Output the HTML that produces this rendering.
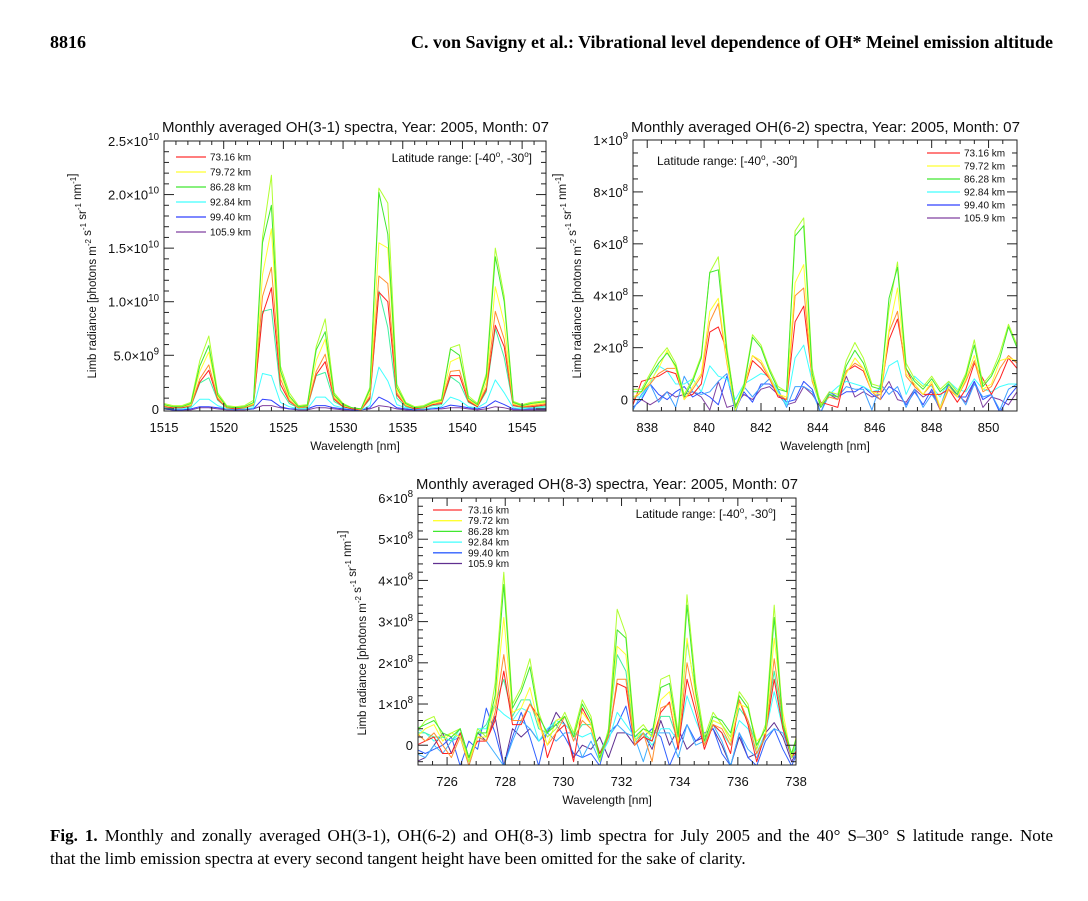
<!DOCTYPE html>
<html><head><meta charset="utf-8">
<style>
body{margin:0;background:#fff;width:1088px;height:901px;overflow:hidden;position:relative;font-family:"Liberation Serif",serif;}
.hdr{position:absolute;top:32px;font-weight:bold;font-size:18px;color:#000;}
.cap{position:absolute;left:50px;top:824px;width:1003px;font-size:17px;line-height:23px;color:#000;}
.cap .l1{display:block;text-align:justify;text-align-last:justify;white-space:nowrap;}
.cap .l2{display:block;text-align:left;}
svg text{font-family:"Liberation Sans",sans-serif;fill:#111;}
</style></head>
<body>
<div class="hdr" style="left:50px">8816</div>
<div class="hdr" style="right:35px">C. von Savigny et al.: Vibrational level dependence of OH* Meinel emission altitude</div>
<svg id="fig" width="1088" height="901" style="position:absolute;left:0;top:0"></svg>
<div class="cap"><span class="l1"><b>Fig. 1.</b> Monthly and zonally averaged OH(3-1), OH(6-2) and OH(8-3) limb spectra for July 2005 and the 40° S–30° S latitude range. Note</span><span class="l2">that the limb emission spectra at every second tangent height have been omitted for the sake of clarity.</span></div>
<script>
// ---------- Chart 1: OH(3-1), values in 1e9 ----------
const xs1=[1515.0,1515.75,1516.5,1517.25,1518.0,1518.75,1519.5,1520.25,1521.0,1521.75,1522.5,1523.25,1524.0,1524.75,1525.5,1526.25,1527.0,1527.75,1528.5,1529.25,1530.0,1530.75,1531.5,1532.25,1533.0,1533.75,1534.5,1535.25,1536.0,1536.75,1537.5,1538.25,1539.0,1539.75,1540.5,1541.25,1542.0,1542.75,1543.5,1544.25,1545.0,1545.75,1546.5,1547.25];
const c1Green=[0.5,0.3,0.3,0.6,4.5,6.8,1.5,0.3,0.2,0.3,0.8,16.0,21.8,4.0,1.5,0.3,0.4,5.8,8.4,1.5,0.5,0.1,0.0,2.0,20.6,19.2,2.3,0.6,0.2,0.3,0.7,0.9,5.7,6.0,1.2,0.5,3.3,15.0,10.5,0.7,0.4,0.6,0.7,0.8];
const c1Green2=[0.4,0.2,0.2,0.5,4.0,5.9,1.3,0.2,0.1,0.2,0.6,15.5,19.0,3.6,1.2,0.2,0.3,5.5,7.2,1.3,0.4,0.1,0.0,1.8,20.2,16.3,2.0,0.5,0.1,0.2,0.6,0.8,5.6,5.0,1.0,0.4,3.0,14.2,10.0,0.6,0.3,0.5,0.6,0.7];
const c1Yellow=[0.3,0.2,0.2,0.4,3.5,5.3,1.2,0.2,0.1,0.2,0.5,12.5,16.8,3.3,1.0,0.2,0.3,4.5,6.5,1.2,0.3,0.1,0.0,1.5,15.5,15.0,1.8,0.4,0.1,0.2,0.5,0.7,4.4,4.8,0.9,0.3,2.5,11.4,8.0,0.5,0.3,0.4,0.5,0.6];
const c1Orange=[0.3,0.2,0.2,0.3,2.8,4.1,1.0,0.1,0.1,0.1,0.4,10.5,13.2,2.8,0.8,0.1,0.2,3.5,5.1,1.0,0.3,0.1,-0.1,1.2,12.4,11.7,1.5,0.3,0.1,0.1,0.5,0.6,3.5,3.6,0.8,0.3,2.0,9.1,6.5,0.4,0.2,0.3,0.4,0.5];
const c1Red=[0.2,0.1,0.1,0.3,2.5,3.6,0.9,0.1,0.0,0.1,0.4,8.8,11.3,2.3,0.7,0.1,0.2,3.2,4.4,0.9,0.2,0.0,-0.1,1.0,10.9,10.0,1.3,0.3,0.0,0.1,0.4,0.5,3.1,3.1,0.7,0.2,1.8,7.8,5.8,0.3,0.2,0.2,0.3,0.4];
const c1Teal=[0.2,0.1,0.1,0.2,2.4,2.9,0.8,0.1,0.0,0.1,0.3,9.1,9.3,1.8,0.5,0.1,0.1,3.1,3.4,0.7,0.2,0.0,-0.1,0.9,11.0,7.6,1.0,0.2,0.0,0.1,0.3,0.4,3.0,2.4,0.6,0.2,1.6,7.5,4.8,0.3,0.1,0.2,0.2,0.3];
const c1Cyan=[0.1,0.0,0.0,0.1,0.9,0.9,0.3,0.0,0.0,0.0,0.1,3.3,3.1,0.6,0.2,0.0,0.0,1.1,1.1,0.3,0.1,0.0,-0.1,0.3,3.9,2.6,0.4,0.1,0.0,0.0,0.1,0.2,1.1,0.8,0.2,0.1,0.6,2.7,1.5,0.1,0.0,0.1,0.1,0.1];
const c1Blue=[0.0,-0.1,-0.1,0.0,0.2,0.2,0.1,0.0,-0.1,0.0,0.0,0.9,0.8,0.2,0.0,0.0,0.0,0.3,0.3,0.1,0.0,-0.1,-0.1,0.1,1.1,0.7,0.1,0.0,-0.1,0.0,0.0,0.1,0.35,0.25,0.1,0.0,0.2,0.75,0.4,0.0,0.0,0.0,0.0,0.0];
const c1Purple=[0.0,-0.1,-0.1,-0.1,0.1,0.1,0.0,-0.1,-0.1,-0.1,0.0,0.3,0.3,0.1,0.0,-0.1,-0.1,0.1,0.1,0.0,-0.1,-0.1,-0.1,0.0,0.3,0.2,0.0,-0.1,-0.1,-0.1,0.0,0.0,0.1,0.1,0.0,-0.1,0.0,0.2,0.1,-0.1,-0.1,-0.1,-0.1,-0.1];
const c1XTicks=[1515,1520,1525,1530,1535,1540,1545];
const c1YTicks=[0,5,10,15,20,25];
const c1YLabels=["0","5.0×10^9","1.0×10^10","1.5×10^10","2.0×10^10","2.5×10^10"];

// ---------- Chart 2: OH(6-2), values in 1e8 ----------
const xs2=[837.5,837.8,838.1,838.4,838.7,839.0,839.3,839.6,839.9,840.2,840.5,840.8,841.1,841.4,841.7,842.0,842.3,842.6,842.9,843.2,843.5,843.8,844.1,844.4,844.7,845.0,845.3,845.6,845.9,846.2,846.5,846.8,847.1,847.4,847.7,848.0,848.3,848.6,848.9,849.2,849.5,849.8,850.1,850.4,850.7,851.0];
const c2Green=[0.4,0.4,1.0,1.6,2.0,1.4,0.2,0.8,1.7,4.9,5.5,2.0,-0.3,0.6,2.5,2.1,1.2,0.5,0.3,6.5,7.0,1.2,-0.2,0.3,0.2,1.5,2.2,1.6,0.6,0.5,3.5,5.3,1.4,0.8,0.5,0.9,0.4,0.7,0.3,1.0,2.3,0.6,1.0,1.8,2.9,2.1];
const c2Green2=[0.3,0.3,0.9,1.4,1.8,1.3,0.1,0.7,1.6,4.9,5.0,1.8,-0.3,0.5,2.4,2.0,1.1,0.4,0.3,6.3,6.7,1.0,-0.3,0.2,0.1,1.3,1.9,1.4,0.5,0.4,3.9,5.1,1.2,0.7,0.4,0.8,0.3,0.6,0.2,0.9,2.1,0.5,0.9,1.6,2.8,2.0];
const c2Yellow=[0.1,0.3,0.7,1.2,1.9,1.2,0.0,0.5,1.0,3.4,3.9,1.5,-0.4,0.4,1.7,1.5,0.9,0.2,0.1,4.5,5.2,0.8,-0.3,0.2,0.1,1.0,1.6,1.2,0.3,0.2,2.7,4.3,1.0,0.6,0.2,0.7,-0.3,0.5,0.1,0.8,1.7,0.4,0.6,1.5,1.6,1.5];
const c2Orange=[0.0,0.3,0.6,1.0,1.2,1.2,0.0,0.4,0.9,3.0,3.7,1.4,-0.4,0.5,1.7,1.4,0.8,0.2,0.0,4.0,4.3,0.7,-0.2,0.1,0.0,1.1,1.4,1.2,0.3,0.0,2.6,3.4,0.9,0.5,0.2,0.6,-0.4,0.4,0.1,0.7,1.5,0.3,0.5,1.2,1.7,1.4];
const c2Red=[-0.2,0.7,0.8,0.9,1.1,1.0,0.1,0.2,0.6,2.6,2.8,1.9,-0.3,0.4,1.5,1.2,0.8,0.1,0.0,3.0,3.6,0.8,-0.1,-0.2,-0.3,1.1,1.3,1.1,0.3,0.3,2.3,3.1,1.2,0.5,0.2,0.2,0.2,0.4,-0.1,0.4,1.4,0.8,0.2,0.8,1.6,1.2];
const c2Cyan=[0.1,0.1,0.6,1.3,1.1,0.6,0.6,0.8,0.3,1.3,0.9,0.8,0.0,0.6,0.8,1.0,0.9,0.3,-0.2,1.6,2.1,0.7,-0.3,0.2,0.5,0.7,0.6,0.5,0.3,0.4,1.3,1.5,0.2,0.9,0.6,0.5,0.1,0.7,0.4,0.3,0.8,0.4,0.3,0.5,0.6,0.6];
const c2LightBlue=[-0.4,0.2,0.6,-0.1,0.3,-0.3,0.9,0.3,0.2,0.3,0.7,1.0,-0.5,0.5,0.1,0.5,0.8,0.4,-0.3,0.5,0.5,0.3,-0.5,0.2,0.1,0.5,0.4,0.4,-0.4,0.6,0.2,0.5,-0.3,0.4,-0.3,0.2,-0.3,0.7,0.3,-0.2,0.6,0.1,0.2,-0.4,0.4,0.6];
const c2Blue=[-0.3,0.0,0.6,0.2,0.0,0.3,0.5,0.1,0.3,0.1,-0.2,0.9,-0.4,0.3,-0.1,0.6,0.6,0.3,-0.1,0.0,0.7,0.4,-0.5,0.3,0.1,0.3,0.3,0.5,0.2,0.0,0.5,0.3,-0.2,0.3,-0.2,0.4,-0.3,0.6,0.1,0.1,0.7,0.0,0.2,-0.5,0.1,0.5];
const c2Purple=[0.0,0.0,-0.2,0.0,0.3,0.1,0.2,0.3,0.1,-0.4,0.7,-0.3,-0.2,0.2,0.0,0.4,0.5,0.2,-0.2,-0.1,0.5,0.2,-0.3,0.2,0.0,0.9,0.1,0.3,0.1,0.2,0.7,0.0,-0.1,0.4,0.1,0.3,-0.4,0.5,0.2,-0.1,0.7,-0.3,0.1,0.0,-0.2,0.3];
const c2XTicks=[838,840,842,844,846,848,850];
const c2YTicks=[0,2,4,6,8,10];
const c2YLabels=["0","2×10^8","4×10^8","6×10^8","8×10^8","1×10^9"];

// ---------- Chart 3: OH(8-3), values in 1e8 ----------
const xs3=[724.95,725.25,725.55,725.85,726.15,726.45,726.75,727.05,727.35,727.65,727.95,728.25,728.55,728.85,729.15,729.45,729.75,730.05,730.35,730.65,730.95,731.25,731.55,731.85,732.15,732.45,732.75,733.05,733.35,733.65,733.95,734.25,734.55,734.85,735.15,735.45,735.75,736.05,736.35,736.65,736.95,737.25,737.55,737.85,738.15];
const c3Green=[0.3,0.6,0.7,0.2,0.3,0.4,-0.4,0.4,0.2,1.5,4.2,1.0,1.4,2.1,0.8,0.2,0.4,0.8,0.3,1.1,0.7,-0.4,0.4,3.3,2.7,0.3,0.5,0.2,1.6,1.7,0.3,3.65,1.5,0.2,0.8,0.5,0.2,1.3,1.0,-0.1,0.5,3.4,0.6,-0.3,0.6];
const c3Green2=[0.4,0.5,0.6,0.3,0.2,0.4,-0.3,0.3,0.3,1.2,3.9,0.9,1.3,1.9,0.7,0.3,0.5,0.7,0.2,1.0,0.6,-0.3,0.3,2.8,2.6,0.2,0.4,0.3,1.4,1.5,0.2,3.4,1.3,0.1,0.7,0.6,0.3,1.2,0.9,0.0,0.4,3.1,0.5,-0.2,0.5];
const c3Yellow=[0.2,0.4,0.5,0.1,0.3,0.2,-0.4,0.2,0.2,1.0,3.1,0.8,0.9,1.4,0.5,0.0,0.6,0.7,0.2,0.8,0.5,-0.3,0.3,2.4,2.2,0.1,0.4,0.2,1.1,1.3,0.1,2.6,1.2,0.1,0.6,0.5,0.1,1.0,0.9,0.1,0.3,2.6,0.8,-0.3,0.7];
const c3Orange=[0.3,0.1,0.3,0.0,-0.3,0.2,-0.5,0.2,0.1,0.8,2.2,0.6,0.6,1.0,0.6,0.0,0.3,0.7,0.1,0.6,0.4,-0.3,0.2,1.6,1.6,0.0,0.3,-0.4,0.9,1.0,0.0,2.0,1.0,0.0,0.5,0.4,0.0,1.1,0.6,-0.2,0.2,2.1,0.6,-0.3,0.6];
const c3Red=[0.0,0.1,0.2,-0.2,-0.2,0.3,-0.3,0.1,0.1,0.6,1.8,0.5,0.5,1.0,0.7,-0.3,0.3,0.5,-0.4,0.9,0.5,-0.2,0.2,1.5,1.4,0.0,0.2,0.1,0.8,1.05,-0.1,1.6,0.8,-0.1,0.5,0.3,-0.2,1.1,0.5,-0.4,0.3,1.6,0.4,-0.3,0.0];
const c3Teal=[0.3,0.3,0.2,0.2,0.1,0.4,-0.3,0.3,0.5,1.0,1.6,0.7,1.1,1.1,0.4,0.3,0.6,0.7,0.2,0.5,0.5,-0.2,0.3,2.2,1.8,0.1,0.3,0.1,0.7,0.7,0.1,2.5,1.3,0.0,0.6,0.5,0.1,0.9,0.6,0.0,0.4,1.8,0.5,-0.3,0.2];
const c3Cyan=[0.4,0.3,0.1,0.2,0.1,0.3,-0.4,0.4,0.4,0.95,0.75,0.6,0.9,0.8,0.1,0.4,0.6,0.5,0.3,0.2,0.3,-0.3,0.1,0.8,0.5,0.2,0.3,0.0,0.4,0.4,0.1,1.2,0.6,0.1,0.5,0.3,0.0,0.6,0.4,-0.2,0.3,1.3,0.4,-0.3,0.3];
const c3LightBlue=[-0.2,-0.3,0.0,-0.2,0.1,0.2,-0.5,0.2,0.1,-0.2,-0.5,0.1,0.6,0.4,0.1,0.3,0.1,0.3,0.3,-0.3,0.1,-0.4,0.2,0.5,0.3,0.2,-0.4,0.3,0.3,0.3,-0.3,0.5,0.0,0.1,0.5,0.1,-0.5,0.3,-0.1,-0.3,0.2,0.4,0.3,-0.3,-0.2];
const c3Blue=[-0.1,-0.2,-0.1,0.0,0.2,-0.5,0.1,-0.1,0.9,0.3,-0.5,0.2,0.8,0.2,-0.5,0.4,0.5,0.2,-0.2,-0.3,-0.2,-0.5,0.3,0.5,0.95,0.0,0.2,0.4,0.2,-0.5,0.0,0.5,0.1,0.3,0.4,-0.2,-0.5,0.3,-0.3,-0.5,0.1,0.4,-0.1,-0.5,0.0];
const c3Purple=[-0.4,-0.3,0.0,0.3,-0.2,0.3,-0.3,0.3,0.1,0.7,-0.5,0.4,0.2,0.4,0.1,0.3,0.8,0.5,-0.3,0.0,-0.1,0.2,-0.3,0.3,0.3,0.0,0.3,-0.1,0.6,0.0,0.4,-0.1,0.1,0.2,0.4,0.0,-0.5,0.2,-0.3,-0.2,0.3,0.55,0.2,-0.4,0.0];
const c3XTicks=[726,728,730,732,734,736,738];
const c3YTicks=[0,1,2,3,4,5,6];
const c3YLabels=["0","1×10^8","2×10^8","3×10^8","4×10^8","5×10^8","6×10^8"];

const legendNames=["73.16 km","79.72 km","86.28 km","92.84 km","99.40 km","105.9 km"];
const legendColors1=["#ff3030","#ffff30","#40e830","#40ffff","#3040ff","#8040a0"];
const legendColors3=["#ff3030","#ffff30","#40e830","#40ffff","#3060ff","#603090"];

const NS="http://www.w3.org/2000/svg";
const svg=document.getElementById('fig');
function mk(tag,attrs,parent){const e=document.createElementNS(NS,tag);for(const k in attrs)e.setAttribute(k,attrs[k]);(parent||svg).appendChild(e);return e;}
function label(parent,x,y,str,size,anchor){
  const t=mk('text',{x:x,y:y,'font-size':size,'text-anchor':anchor},parent);
  const p=str.split('^');
  t.appendChild(document.createTextNode(p[0]));
  if(p[1]){const s=mk('tspan',{dy:-size*0.45,'font-size':size*0.75},t);s.textContent=p[1];}
  return t;
}
function chart(cfg){
  const g=mk('g',{});
  
  
  const L=cfg.L,R=cfg.R,T=cfg.T,B=cfg.B;
  const sx=v=>L+(v-cfg.x0)/(cfg.x1-cfg.x0)*(R-L);
  const sy=v=>B-(v-cfg.y0)/(cfg.y1-cfg.y0)*(B-T);
  const cid='clip'+cfg.name;
  const cp=mk('clipPath',{id:cid},g);mk('rect',{x:L,y:T,width:R-L,height:B-T},cp);
  const lines=mk('g',{'clip-path':'url(#'+cid+')'},g);
  cfg.series.forEach(s=>{
    let d='';const n=Math.min(cfg.xs.length,s.v.length);
    for(let i=0;i<n;i++){d+=(i?'L':'M')+sx(cfg.xs[i]).toFixed(1)+','+sy(s.v[i]).toFixed(1);}
    const p=mk('path',{d:d,fill:'none',stroke:s.c,'stroke-width':1,'stroke-linejoin':'round'},lines);
    
    
  });
  mk('rect',{x:L,y:T,width:R-L,height:B-T,fill:'none',stroke:'#222','stroke-width':1},g);
  for(let v=cfg.x0;v<=cfg.x1+1e-9;v+=cfg.xMinor){
    const vv=Math.round(v/cfg.xMinor)*cfg.xMinor;const x=sx(vv);
    const major=cfg.xTicks.some(t=>Math.abs(t-vv)<1e-6);const len=major?8:4;
    mk('line',{x1:x,y1:B,x2:x,y2:B-len,stroke:'#222'},g);mk('line',{x1:x,y1:T,x2:x,y2:T+len,stroke:'#222'},g);
  }
  cfg.xTicks.forEach(t=>{const tl=label(g,sx(t),cfg.xLabY,String(t),13,'middle');});
  let yv=Math.ceil(cfg.y0/cfg.yMinor)*cfg.yMinor;
  for(;yv<=cfg.y1+1e-9;yv+=cfg.yMinor){
    const vv=Math.round(yv/cfg.yMinor)*cfg.yMinor;const y=sy(vv);
    const major=cfg.yTicks.some(t=>Math.abs(t-vv)<1e-6);const len=major?10:5;
    mk('line',{x1:L,y1:y,x2:L+len,y2:y,stroke:'#222'},g);mk('line',{x1:R,y1:y,x2:R-len,y2:y,stroke:'#222'},g);
  }
  cfg.yTicks.forEach((t,i)=>{const tl=label(g,L-5,sy(t)+5,cfg.yLabels[i],13,'end');});
  const ttl=mk('text',{x:(cfg.tL+cfg.tR)/2,y:cfg.tY,'font-size':15,'text-anchor':'middle',textLength:cfg.tR-cfg.tL,lengthAdjust:'spacingAndGlyphs'},g);
  ttl.textContent=cfg.title;
  const xl=mk('text',{x:(L+R)/2,y:cfg.xTitleY,'font-size':12,'text-anchor':'middle'},g);
  xl.textContent='Wavelength [nm]';
  const yl=mk('text',{x:0,y:0,'font-size':11.5,'text-anchor':'middle',transform:'translate('+cfg.yTitleX+','+cfg.yTitleY+') rotate(-90)'},g);
  
  const parts=[['Limb radiance [photons m',''],['','-2'],[' s',''],['','-1'],[' sr',''],['','-1'],[' nm',''],['','-1'],[']','']];
  parts.forEach(p=>{if(p[0]){const s=mk('tspan',{},yl);s.textContent=p[0];}else{const s=mk('tspan',{'font-size':8,dy:-5},yl);s.textContent=p[1];const r=mk('tspan',{'font-size':11.5,dy:5},yl);r.textContent='';}});
  const lat=mk('text',{x:cfg.latX,y:cfg.latY,'font-size':12,'text-anchor':cfg.latAnchor},g);
  
  [['Latitude range: [-40',0],['o',1],[', -30',0],['o',1],[']',0]].forEach(p=>{const s=mk('tspan',p[1]?{'font-size':8,dy:-5}:{'font-size':12,dy:(p[0]===', -30'||p[0]===']')?5:0},lat);s.textContent=p[0];});
  legendNames.forEach((nm,i)=>{
    const y=cfg.legY+i*cfg.legDy;
    const le=mk('g',{},g);
    mk('line',{x1:cfg.legX1,y1:y,x2:cfg.legX2,y2:y,stroke:cfg.legColors[i],'stroke-width':1.3},le);
    const t=mk('text',{x:cfg.legTX,y:y+3.5,'font-size':10},le);t.textContent=nm;
  });
}
const S=(n,c,v)=>({n:n,c:c,v:v});
chart({name:'oh31-chart',L:164,R:546,T:141,B:411,x0:1515,x1:1547,y0:-0.2,y1:25,xs:xs1,
  series:[S('105.9',"#8040a0",c1Purple),S('99.40',"#3040ff",c1Blue),S('92.84',"#40ffff",c1Cyan),S('89',"#40f0a0",c1Teal),S('73.16',"#ff2020",c1Red),S('76',"#ff9030",c1Orange),S('79.72',"#ffff30",c1Yellow),S('83',"#b0ff30",c1Green),S('86.28',"#40e830",c1Green2)],
  xTicks:c1XTicks,xMinor:1,yTicks:c1YTicks,yLabels:c1YLabels,yMinor:1,xLabY:432,
  title:'Monthly averaged OH(3-1) spectra, Year: 2005, Month: 07',tL:162,tR:549,tY:132,xTitleY:450,yTitleX:96,yTitleY:276,
  latX:532,latY:162,latAnchor:'end',legX1:176,legX2:206,legTX:210,legY:157,legDy:15,legColors:legendColors1});
chart({name:'oh62-chart',L:633,R:1017,T:140,B:411,x0:837.5,x1:851,y0:-0.44,y1:10,xs:xs2,
  series:[S('105.9',"#8040a0",c2Purple),S('99.40',"#3050ff",c2Blue),S('96',"#40a0ff",c2LightBlue),S('92.84',"#40ffff",c2Cyan),S('73.16',"#ff2020",c2Red),S('76',"#ff9030",c2Orange),S('79.72',"#ffff30",c2Yellow),S('83',"#b0ff30",c2Green),S('86.28',"#40e830",c2Green2)],
  xTicks:c2XTicks,xMinor:0.5,yTicks:c2YTicks,yLabels:c2YLabels,yMinor:0.5,xLabY:432,
  title:'Monthly averaged OH(6-2) spectra, Year: 2005, Month: 07',tL:631,tR:1020,tY:132,xTitleY:450,yTitleX:581,yTitleY:276,
  latX:657,latY:165,latAnchor:'start',legX1:927,legX2:960,legTX:964,legY:153,legDy:13,legColors:legendColors1});
chart({name:'oh83-chart',L:418,R:796,T:498,B:765,x0:725,x1:738,y0:-0.48,y1:6,xs:xs3,
  series:[S('105.9',"#603090",c3Purple),S('99.40',"#3060ff",c3Blue),S('96',"#40b0ff",c3LightBlue),S('92.84',"#40ffff",c3Cyan),S('89',"#40f0a0",c3Teal),S('73.16',"#ff2020",c3Red),S('76',"#ff9030",c3Orange),S('79.72',"#ffff30",c3Yellow),S('83',"#b0ff30",c3Green),S('86.28',"#40e830",c3Green2)],
  xTicks:c3XTicks,xMinor:0.5,yTicks:c3YTicks,yLabels:c3YLabels,yMinor:0.2,xLabY:786,
  title:'Monthly averaged OH(8-3) spectra, Year: 2005, Month: 07',tL:416,tR:798,tY:489,xTitleY:804,yTitleX:366,yTitleY:633,
  latX:776,latY:518,latAnchor:'end',legX1:433,legX2:462,legTX:468,legY:510,legDy:10.7,legColors:legendColors3});
</script>
</body></html>
